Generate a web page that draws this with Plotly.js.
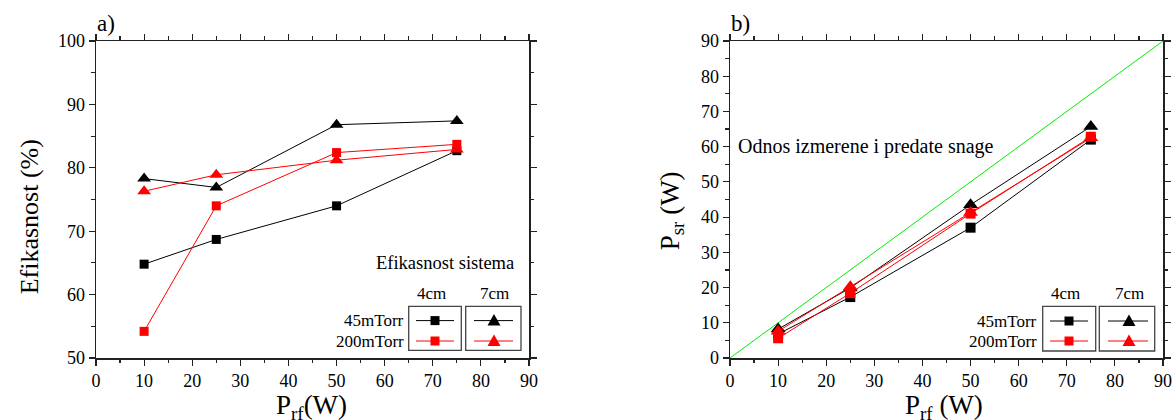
<!DOCTYPE html>
<html>
<head>
<meta charset="utf-8">
<script src="https://cdn.plot.ly/plotly-3.0.1.min.js"></script>
<style>html,body{margin:0;padding:0;background:#fff;}#chart{width:1172px;height:420px;}</style>
</head>
<body>
<div id="chart"></div>
<script>
// ---- data ----
const powerRF = [10, 25, 50, 75];
// panel a) efficiency (%)
const effA_45mTorr_4cm = [64.8, 68.7, 74.0, 82.7];
const effA_200mTorr_4cm = [54.2, 74.0, 82.4, 83.7];
const effA_45mTorr_7cm = [78.3, 76.9, 86.8, 87.4];
const effA_200mTorr_7cm = [76.3, 78.9, 81.2, 82.9];
// panel b) measured power (W)
const psrB_45mTorr_4cm = [6.8, 17.3, 37.0, 62.0];
const psrB_200mTorr_4cm = [5.6, 18.4, 41.0, 62.8];
const psrB_45mTorr_7cm = [8.2, 19.9, 43.5, 65.7];
const psrB_200mTorr_7cm = [7.6, 20.2, 41.3, 62.5];
const identityX = [0, 90];
const identityY = [0, 90];
const xTicks = [0, 10, 20, 30, 40, 50, 60, 70, 80, 90];
const yTicksA = [50, 60, 70, 80, 90, 100];
const yTicksB = [0, 10, 20, 30, 40, 50, 60, 70, 80, 90];
const legendRows = ['45mTorr', '200mTorr'];
const legendCols = ['4cm', '7cm'];

// ---- geometry ----
const W = 1172, H = 420;
const M = {l: 96, r: 9, t: 40.7, b: 62.3};
const PW = W - M.l - M.r, PH = H - M.t - M.b;
const px = x => (x - M.l) / PW;
const py = y => (H - M.b - y) / PH;
const FONT = '"Liberation Serif", "Times New Roman", serif';
const BLACK = '#000000', RED = '#ff0000';

function tr(x, y, color, symbol, size, xa, ya) {
  return {x: x, y: y, type: 'scatter', mode: 'lines+markers', xaxis: xa, yaxis: ya,
    line: {color: color, width: 1}, marker: {color: color, symbol: symbol, size: size},
    showlegend: false, hoverinfo: 'skip'};
}
const data = [
  tr(powerRF, effA_45mTorr_4cm, BLACK, 'square', 9, 'x', 'y'),
  tr(powerRF, effA_45mTorr_7cm, BLACK, 'triangle-up', 12, 'x', 'y'),
  tr(powerRF, effA_200mTorr_4cm, RED, 'square', 9, 'x', 'y'),
  tr(powerRF, effA_200mTorr_7cm, RED, 'triangle-up', 12, 'x', 'y'),
  {x: identityX, y: identityY, type: 'scatter', mode: 'lines', xaxis: 'x2', yaxis: 'y2',
    line: {color: '#00ee00', width: 1}, showlegend: false, hoverinfo: 'skip'},
  tr(powerRF, psrB_45mTorr_4cm, BLACK, 'square', 10, 'x2', 'y2'),
  tr(powerRF, psrB_45mTorr_7cm, BLACK, 'triangle-up', 13, 'x2', 'y2'),
  tr(powerRF, psrB_200mTorr_7cm, RED, 'triangle-up', 13, 'x2', 'y2'),
  tr(powerRF, psrB_200mTorr_4cm, RED, 'square', 10, 'x2', 'y2')
];

function axis(extra) {
  return Object.assign({
    showgrid: false, zeroline: false, showline: true, linecolor: '#222', linewidth: 1.5,
    mirror: 'ticks', ticks: 'outside', ticklen: 6, tickwidth: 1.2, tickcolor: '#222',
    tickfont: {family: FONT, size: 18, color: '#000'},
    minor: {dtick: 5, ticks: 'outside', ticklen: 3.5, tickwidth: 1.2, tickcolor: '#222'}
  }, extra);
}

const shapes = [];
const annotations = [];
function note(x, y, text, size, xa, ya, angle) {
  annotations.push({xref: 'paper', yref: 'paper', x: px(x), y: py(y), text: text, showarrow: false,
    xanchor: xa, yanchor: ya, textangle: angle || 0, font: {family: FONT, size: size, color: '#000'}});
}
function legend(o) {
  legendCols.forEach((c, i) => note(o.headX[i], o.headY, c, 17, 'center', 'middle'));
  legendRows.forEach((r, j) => note(o.labelX, o.rowY[j], r, 17, 'right', 'middle'));
  o.boxes.forEach(b => shapes.push({type: 'rect', xref: 'paper', yref: 'paper', x0: px(b[0]), x1: px(b[1]),
    y0: py(o.boxY[0]), y1: py(o.boxY[1]), line: {color: '#444', width: 1.3}}));
  const colors = [BLACK, RED];
  o.lines.forEach((ln, i) => {
    colors.forEach((col, j) => {
      const y = o.rowY[j];
      shapes.push({type: 'line', xref: 'paper', yref: 'paper', x0: px(ln[0]), x1: px(ln[1]), y0: py(y), y1: py(y),
        line: {color: col, width: 1}});
      const cx = o.colX[i];
      if (i === 0) {
        shapes.push({type: 'rect', xref: 'paper', yref: 'paper', x0: px(cx - 4.5), x1: px(cx + 4.5),
          y0: py(y + 4.5), y1: py(y - 4.5), fillcolor: col, line: {color: col, width: 0}});
      } else {
        const p = 'M' + px(cx - 6.5) + ',' + py(y + 5) + ' L' + px(cx + 6.5) + ',' + py(y + 5) + ' L' + px(cx) + ',' + py(y - 6.5) + ' Z';
        shapes.push({type: 'path', xref: 'paper', yref: 'paper', path: p, fillcolor: col, line: {color: col, width: 0}});
      }
    });
  });
}
legend({colX: [435, 494], headX: [431, 494], headY: 293, labelX: 406, rowY: [320.3, 340.7],
  boxes: [[408.7, 461.3], [465.7, 521]], boxY: [306, 350], lines: [[416, 454], [474, 513]]});
legend({colX: [1069, 1129], headX: [1065, 1129], headY: 293, labelX: 1039, rowY: [320.7, 340.7],
  boxes: [[1042.7, 1095.7], [1099.3, 1154.7]], boxY: [306, 350.7], lines: [[1050, 1088], [1108, 1148]]});

note(516, 263, 'Efikasnost sistema', 18.5, 'right', 'middle');
note(736, 146, 'Odnos izmerene i predate snage', 20, 'left', 'middle');
note(95, 23, 'a)', 23, 'left', 'middle');
note(729, 23, 'b)', 23, 'left', 'middle');
// axis titles
note(311, 388, 'P<sub>rf</sub>(W)', 27, 'center', 'top');
note(944, 388, 'P<sub>rf</sub> (W)', 27, 'center', 'top');
note(29.5, 216.5, 'Efikasnost (%)', 26, 'center', 'middle', -90);
note(672, 211, 'P<sub>sr</sub> (W)', 27, 'center', 'middle', -90);

const layout = {
  width: W, height: H, margin: M, paper_bgcolor: '#fff', plot_bgcolor: '#fff', showlegend: false,
  font: {family: FONT, color: '#000'},
  xaxis: axis({domain: [0, 433 / PW], range: [0, 90], tickvals: xTicks, anchor: 'y'}),
  yaxis: axis({domain: [0, 1], range: [50, 100], tickvals: yTicksA, anchor: 'x'}),
  xaxis2: axis({domain: [634 / PW, 1], range: [0, 90], tickvals: xTicks, anchor: 'y2'}),
  yaxis2: axis({domain: [0, 1], range: [0, 90], tickvals: yTicksB, anchor: 'x2'}),
  shapes: shapes, annotations: annotations
};
Plotly.newPlot('chart', data, layout, {displayModeBar: false, staticPlot: true});
</script>
</body>
</html>
